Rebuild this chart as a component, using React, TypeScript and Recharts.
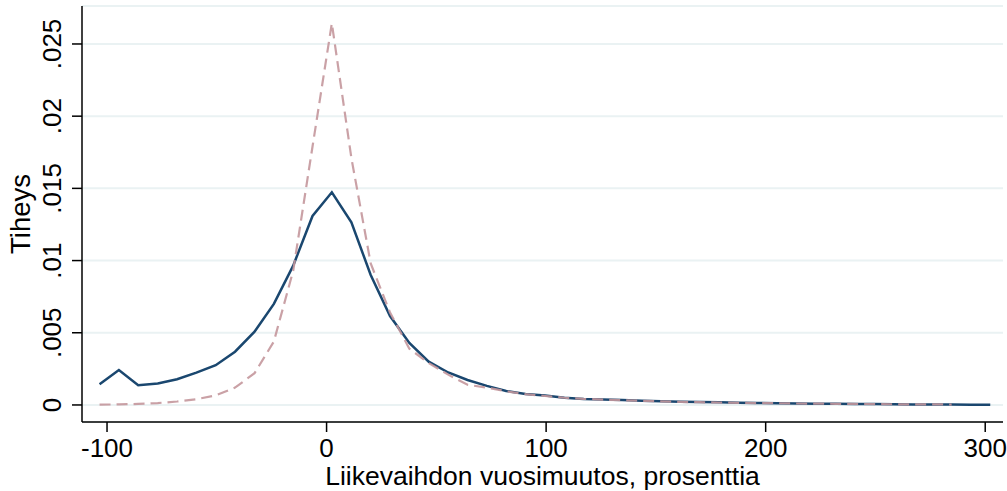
import { CartesianGrid, Label, Line, LineChart, XAxis, YAxis } from "recharts";

// grid of evaluation points (prosenttia)
const changePct = [
  -103.4, -94.6, -85.8, -76.9, -68.1, -59.3, -50.5, -41.7, -32.8, -24.0, -15.2, -6.4, 2.4, 11.3,
  20.1, 28.9, 37.7, 46.5, 55.4, 64.2, 73.0, 81.8, 90.6, 99.5, 108.3, 117.1, 125.9, 134.7, 143.6,
  152.4, 161.2, 170.0, 178.8, 187.7, 196.5, 205.3, 214.1, 222.9, 231.8, 240.6, 249.4, 258.2,
  267.0, 275.9, 284.7, 293.5, 302.3,
];

// solid line: estimated density
const densityObserved = [
  0.00143, 0.00242, 0.00136, 0.00148, 0.00178, 0.00224, 0.00275, 0.00369, 0.00508, 0.007, 0.00965,
  0.01309, 0.01473, 0.01265, 0.009, 0.00616, 0.00429, 0.003, 0.00225, 0.00173, 0.00132, 0.00097,
  0.00076, 0.00065, 0.0005, 0.00042, 0.00038, 0.00035, 0.0003, 0.00026, 0.00022, 0.0002, 0.00018,
  0.00016, 0.00014, 0.00012, 0.0001, 0.00009, 0.00008, 0.00007, 0.00006, 0.00005, 0.00004,
  0.00003, 0.00003, 0.00002, 0.00001,
];

// dashed line: comparison density
const densityComparison: (number | null)[] = [
  0.00002, 0.00004, 0.00007, 0.00013, 0.00024, 0.0004, 0.00066, 0.0012, 0.0022, 0.0044, 0.0093,
  0.0179, 0.02643, 0.0171, 0.0098, 0.0064, 0.0039, 0.0029, 0.0021, 0.0014, 0.0012, 0.00095,
  0.00075, 0.00062, 0.0005, 0.00042, 0.00037, 0.00033, 0.00029, 0.00025, 0.00021, 0.00019,
  0.00017, 0.00015, 0.00013, 0.00012, 0.0001, 0.00009, 0.00008, 0.00007, 0.00006, 0.00005,
  0.00004, 0.00004, 0.00003, null, null,
];

const xTicks = [-100, 0, 100, 200, 300];
const yTicks = [0, 0.005, 0.01, 0.015, 0.02, 0.025];

const data = changePct.map((x, i) => ({
  x,
  observed: densityObserved[i],
  comparison: densityComparison[i],
}));

const FONT = '"Liberation Sans", Arial, sans-serif';

const fmtY = (v: number) => (v === 0 ? "0" : String(v).replace(/^0/, ""));

function XTick(props: any) {
  const { x, y, payload } = props;
  return (
    <text x={x} y={y + 23} textAnchor="middle" fontSize={26} fontFamily={FONT} fill="#000">
      {payload.value}
    </text>
  );
}

function YTick(props: any) {
  const { x, y, payload } = props;
  return (
    <text
      transform={`translate(${x - 9},${y}) rotate(-90)`}
      textAnchor="middle"
      fontSize={26}
      fontFamily={FONT}
      fill="#000"
    >
      {fmtY(payload.value)}
    </text>
  );
}

export default function App() {
  return (
    <div style={{ position: "absolute", left: 0, top: 0 }}>
      <LineChart
        width={1007}
        height={491}
        data={data}
        margin={{ top: 6, right: 4, left: 0, bottom: 0 }}
      >
        <CartesianGrid horizontal vertical={false} stroke="#eaf2f3" strokeWidth={2} />
        <XAxis
          dataKey="x"
          type="number"
          domain={[-111.4, 308.1]}
          ticks={xTicks}
          allowDataOverflow
          height={69}
          tickSize={10}
          tick={<XTick />}
          axisLine={{ stroke: "#000", strokeWidth: 1.5 }}
          tickLine={{ stroke: "#000", strokeWidth: 1.5 }}
        >
          <Label
            content={({ viewBox }: any) => (
              <text
                x={viewBox.x + viewBox.width / 2}
                y={viewBox.y + 63}
                textAnchor="middle"
                fontSize={26.5}
                fontFamily={FONT}
                fill="#000"
              >
                Liikevaihdon vuosimuutos, prosenttia
              </text>
            )}
          />
        </XAxis>
        <YAxis
          type="number"
          domain={[-0.00118, 0.02763]}
          ticks={yTicks}
          allowDataOverflow
          width={82}
          tickSize={10}
          tick={<YTick />}
          axisLine={{ stroke: "#000", strokeWidth: 1.5 }}
          tickLine={{ stroke: "#000", strokeWidth: 1.5 }}
        >
          <Label
            content={({ viewBox }: any) => (
              <text
                transform={`translate(30,${viewBox.y + viewBox.height / 2}) rotate(-90)`}
                textAnchor="middle"
                fontSize={27.5}
                fontFamily={FONT}
                fill="#000"
              >
                Tiheys
              </text>
            )}
          />
        </YAxis>
        <Line
          type="linear"
          dataKey="observed"
          stroke="#1a476f"
          strokeWidth={2.5}
          dot={false}
          activeDot={false}
          isAnimationActive={false}
        />
        <Line
          type="linear"
          dataKey="comparison"
          stroke="#c4979c"
          strokeOpacity={0.9}
          strokeWidth={2.2}
          strokeDasharray="11 6"
          dot={false}
          activeDot={false}
          connectNulls={false}
          isAnimationActive={false}
        />
      </LineChart>
    </div>
  );
}
